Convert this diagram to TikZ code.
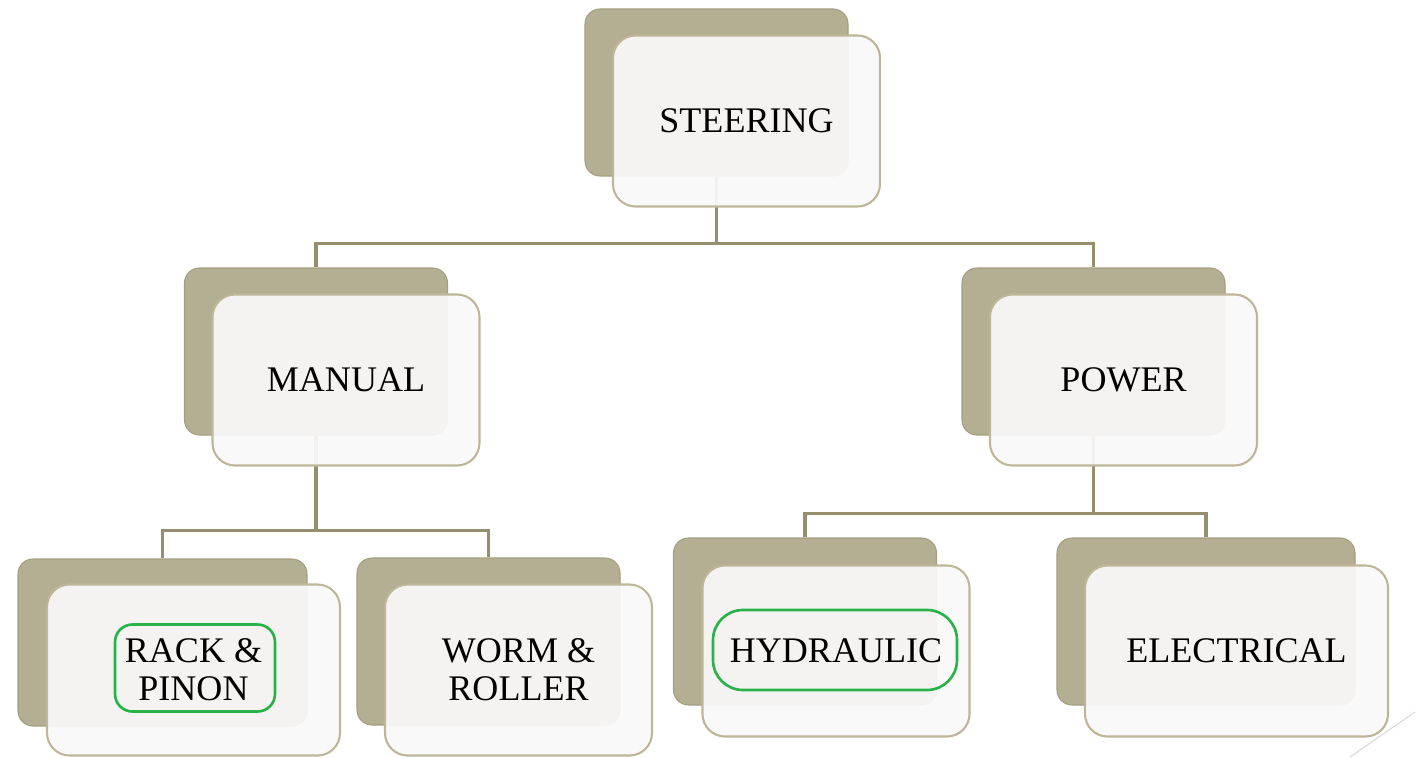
\documentclass[tikz,border=0pt]{standalone}
\usepackage{fontspec}
\setmainfont{Liberation Serif}
\usetikzlibrary{positioning,calc}
\definecolor{khaki}{RGB}{180,175,146}
\definecolor{khakiedge}{RGB}{165,158,128}
\definecolor{frontfill}{RGB}{250,249,250}
\definecolor{frontedge}{RGB}{190,182,152}
\definecolor{linkcol}{RGB}{150,143,110}
\definecolor{ringgreen}{RGB}{40,178,72}
\tikzset{
  backbox/.style={draw=khakiedge, fill=khaki, rounded corners=0.3cm, line width=0.6pt,
    minimum width=5.26cm, minimum height=3.34cm},
  frontbox/.style={draw=frontedge, fill=frontfill, fill opacity=0.93, text opacity=1,
    rounded corners=0.45cm, line width=1.2pt, minimum width=5.34cm, minimum height=3.42cm,
    align=center, font=\fontsize{20.5}{21.5}\selectfont},
  link/.style={draw=linkcol, line width=2.1pt},
  greenring/.style={draw=ringgreen, line width=1.5pt, rounded corners=0.35cm}
}
\begin{document}
\begin{tikzpicture}
\useasboundingbox (0,0) rectangle (28.44,-15.16);
% back boxes
 \node[backbox] (bS) at (14.33,-1.85) {};
 \node[backbox] (bM) at (6.32,-7.03) {};
 \node[backbox] (bP) at (21.87,-7.03) {};
 \node[backbox, minimum width=5.78cm] (bR) at (3.25,-12.85) {};
 \node[backbox] (bW) at (9.77,-12.83) {};
 \node[backbox] (bH) at (16.10,-12.43) {};
 \node[backbox, minimum width=5.96cm] (bE) at (24.12,-12.43) {};

% edges
 \draw[link] (bS.south) -- ++(0,-1.34) coordinate (jS);
 \draw[link] (jS) -| (bM.north);
 \draw[link] (jS) -| (bP.north);
 \draw[link] (bM.south) -- ++(0,-1.9) coordinate (jM);
 \draw[link] (jM) -| (bR.north);
 \draw[link] (jM) -| (bW.north);
 \draw[link] (bP.south) -- ++(0,-1.56) coordinate (jP);
 \draw[link] (jP) -| (bH.north);
 \draw[link] (jP) -| (bE.north);

% front boxes
 \node[frontbox] (fS) at ($(bS)+(0.6,-0.57)$) {STEERING};
 \node[frontbox] (fM) at ($(bM)+(0.6,-0.57)$) {MANUAL};
 \node[frontbox] (fP) at ($(bP)+(0.6,-0.57)$) {POWER};
 \node[frontbox, minimum width=5.86cm] (fR) at ($(bR)+(0.62,-0.55)$) {RACK \&\\PINON};
 \node[frontbox] (fW) at ($(bW)+(0.6,-0.57)$) {WORM \&\\ROLLER};
 \node[frontbox] (fH) at ($(bH)+(0.62,-0.59)$) {HYDRAULIC};
 \node[frontbox, minimum width=6.06cm] (fE) at ($(bE)+(0.61,-0.59)$) {ELECTRICAL};

% marked types
 \node[greenring, minimum width=3.2cm, minimum height=1.74cm] (gR) at ($(fR)+(0.03,0.04)$) {};
 \node[greenring, rounded corners=0.6cm, minimum width=4.88cm, minimum height=1.6cm] (gH) at ($(fH)+(-0.02,0.02)$) {};

 \draw[gray!30, line width=0.6pt] (28.3,-14.24) -- (27.0,-15.14);
\end{tikzpicture}
\end{document}
